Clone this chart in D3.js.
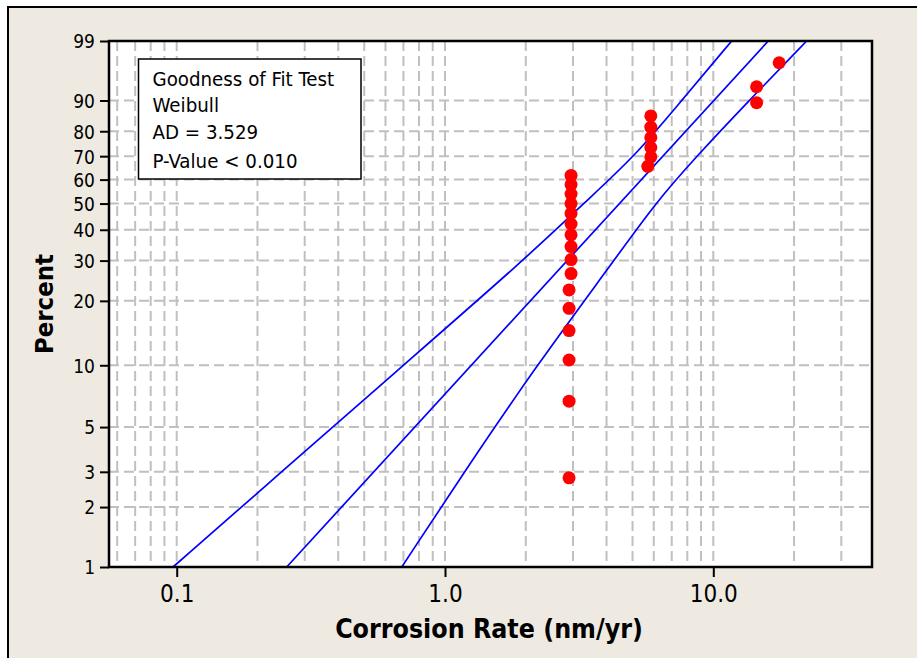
<!DOCTYPE html>
<html>
<head>
<meta charset="utf-8">
<script src="https://cdn.jsdelivr.net/npm/d3@7"></script>
<style>
  body{margin:0;background:#fff;}
  svg{display:block;}
  text{font-family:"DejaVu Sans Condensed","DejaVu Sans",sans-serif;fill:#000;}
</style>
</head>
<body>
<svg id="chart" width="917" height="658"></svg>
<script>
// tick values / labels
const xTicks=[0.1,1,10];
const xTickLabels=["0.1","1.0","10.0"];
const xGrid=[0.06,0.07,0.08,0.09,0.1,0.2,0.3,0.4,0.5,0.6,0.7,0.8,0.9,1,2,3,4,5,6,7,8,9,10,20,30];
const yTicks=[1,2,3,5,10,20,30,40,50,60,70,80,90,99];

// observed corrosion rates and their plotted percent
const rate=[2.9,2.9,2.9,2.9,2.9,2.9,2.95,2.95,2.95,2.95,2.95,2.95,2.95,2.95,2.95,2.95,
  5.7,5.85,5.85,5.85,5.85,5.85,14.5,14.5,17.6];
const pct=[2.8,6.7,10.6,14.6,18.5,22.4,26.4,30.3,34.3,38.2,42.1,46.1,50.0,53.9,57.9,61.8,
  65.7,69.7,73.6,77.6,81.5,85.4,89.4,93.3,97.2];

// fitted Weibull line and 95% confidence bounds
const fitPct=[1,99];
const fitRate=[0.257,16.03];
const ciPct=[1,3,10,30,50,70,90,99];
const ciLeft=[0.0969,0.246,0.699,1.958,3.28,5.11,7.62,11.71];
const ciRight=[0.690,1.18,2.197,4.265,6.06,8.67,13.6,22.29];

const svg=d3.select("#chart");
const m={left:109,right:872,top:41,bottom:567};

// outer panel
svg.append("rect").attr("x",8).attr("y",7).attr("width",1000).attr("height",1000)
  .attr("fill","#eeeae1").attr("stroke","#000").attr("stroke-width",2);

const wb=p=>Math.log(-Math.log(1-p/100));
const x=d3.scaleLog().domain([0.05593,39.04]).range([m.left,m.right]);
const yt=d3.scaleLinear().domain([wb(1),wb(99)]).range([m.bottom,m.top]);
const y=p=>yt(wb(p));

svg.append("rect").attr("x",m.left).attr("y",m.top)
  .attr("width",m.right-m.left).attr("height",m.bottom-m.top).attr("fill","#fff");

// grid
const grid=svg.append("g").attr("stroke","#c0c0c0").attr("stroke-width",2).attr("stroke-dasharray","10,5");
grid.selectAll(".vg").data(xGrid).join("line")
  .attr("x1",d=>x(d)).attr("x2",d=>x(d)).attr("y1",m.top).attr("y2",m.bottom);
grid.selectAll(".hg").data(yTicks.slice(1,-1)).join("line")
  .attr("y1",d=>y(d)).attr("y2",d=>y(d)).attr("x1",m.left).attr("x2",m.right);

// legend box
svg.append("rect").attr("x",138.5).attr("y",59).attr("width",222.5).attr("height",120)
  .attr("fill","#fff").attr("stroke","#000").attr("stroke-width",1.5);
const legendLines=["Goodness of Fit Test","Weibull","AD = 3.529","P-Value < 0.010"];
svg.append("g").selectAll("text").data(legendLines).join("text")
  .attr("x",152.5).attr("y",(d,i)=>[86,112,139,168][i])
  .attr("font-size","20.3px").text(d=>d);

// fit + bounds
const line=d3.line().x(d=>x(d[0])).y(d=>y(d[1])).curve(d3.curveBasis);
const lines=[fitRate.map((r,i)=>[r,fitPct[i]]),
  ciLeft.map((r,i)=>[r,ciPct[i]]),
  ciRight.map((r,i)=>[r,ciPct[i]])];
svg.append("g").selectAll("path").data(lines).join("path")
  .attr("d",line).attr("fill","none").attr("stroke","#0000ff").attr("stroke-width",1.7);

// points
svg.append("g").selectAll("circle").data(rate.map((r,i)=>[r,pct[i]])).join("circle")
  .attr("cx",d=>x(d[0])).attr("cy",d=>y(d[1])).attr("r",6.5).attr("fill","#ff0000");

// frame
svg.append("rect").attr("x",m.left).attr("y",m.top)
  .attr("width",m.right-m.left).attr("height",m.bottom-m.top)
  .attr("fill","none").attr("stroke","#000").attr("stroke-width",2.5);

// axes
const yAxis=svg.append("g").attr("transform",`translate(${m.left},0)`)
  .call(d3.axisLeft(yt).tickValues(yTicks.map(wb)).tickFormat((d,i)=>yTicks[i]).tickSize(9).tickPadding(5));
yAxis.select(".domain").remove();
yAxis.selectAll("line").attr("stroke","#000").attr("stroke-width",2);
yAxis.selectAll("text").attr("font-size","19px").attr("font-family",null).attr("dy","0.36em");

const xAxis=svg.append("g").attr("transform",`translate(0,${m.bottom})`)
  .call(d3.axisBottom(x).tickValues(xTicks).tickFormat((d,i)=>xTickLabels[i]).tickSize(10).tickPadding(8));
xAxis.select(".domain").remove();
xAxis.selectAll("line").attr("stroke","#000").attr("stroke-width",2);
xAxis.selectAll("text").attr("font-size","24px").attr("font-family",null);

// titles
svg.append("text").attr("x",489).attr("y",638).attr("text-anchor","middle")
  .attr("font-size","26.5px").attr("font-weight","bold").text("Corrosion Rate (nm/yr)");
svg.append("text").attr("transform","translate(53,304) rotate(-90)").attr("text-anchor","middle")
  .attr("font-size","25.5px").attr("font-weight","bold").text("Percent");
</script>
</body>
</html>
